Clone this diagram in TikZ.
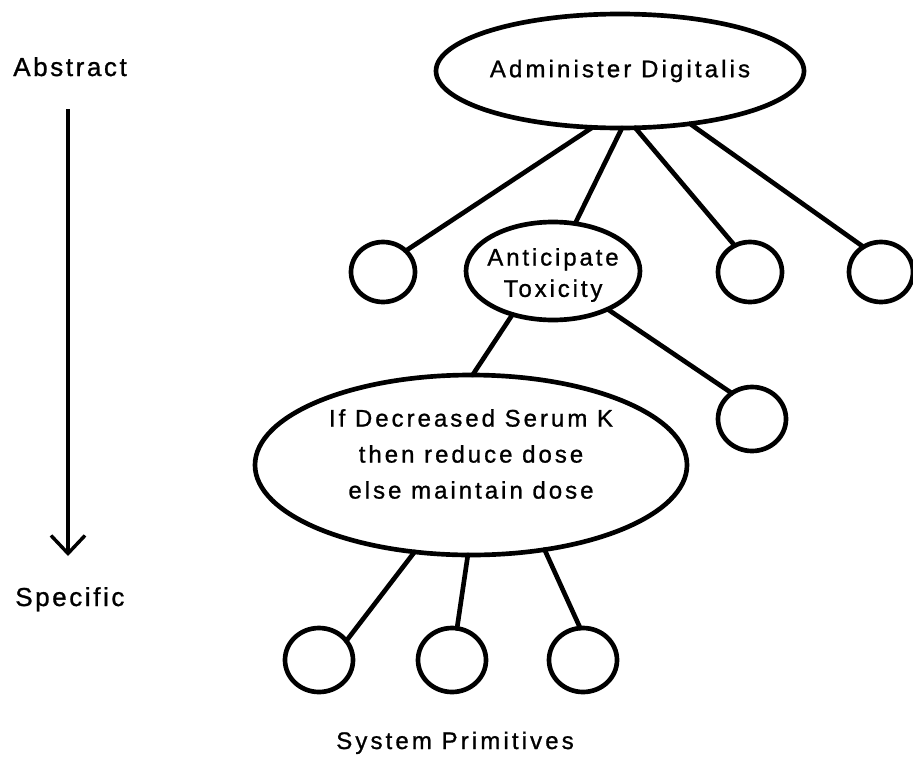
\documentclass[tikz,border=0pt]{standalone}
\usepackage{fontspec}
\setmainfont{Liberation Sans}
\usetikzlibrary{arrows.meta,shapes.geometric}
\tikzset{
  shape base/.style={draw, ellipse, line width=3.5pt, inner sep=0pt, outer sep=0pt},
  bigell/.style={shape base},
  leaf/.style={shape base, minimum width=48pt, minimum height=45pt},
  leafbig/.style={shape base, minimum width=51pt, minimum height=48pt},
  conn/.style={line width=3.5pt, line cap=round},
  sidelbl/.style={font=\fontsize{19.5}{22}\selectfont\addfontfeature{LetterSpace=10,FakeBold=1}},
  toplbl/.style={font=\fontsize{18}{19}\selectfont\addfontfeature{LetterSpace=13,FakeBold=1}},
  antlbl/.style={font=\fontsize{18}{23.5}\selectfont\addfontfeature{LetterSpace=12,FakeBold=1}, align=center},
  botlbl/.style={font=\fontsize{18}{27}\selectfont\addfontfeature{LetterSpace=12.5,FakeBold=1}, align=center},
  syslbl/.style={font=\fontsize{18}{19}\selectfont\addfontfeature{LetterSpace=13,FakeBold=1}},
}
\begin{document}
\begin{tikzpicture}[x=0.75pt,y=-0.75pt]
\useasboundingbox (0,0) rectangle (913,757);
\fill[white] (0,0) rectangle (913,757);
% side scale
\node[sidelbl, anchor=base west, inner sep=0pt] (abs) at (13,76) {Abstract};
\node[sidelbl, anchor=base west, inner sep=0pt] (spec) at (15,606) {Specific};
\coordinate (atop) at (68,109);
\coordinate (abot) at (68,556);
\draw[line width=2.6pt, -{Straight Barb[length=13.5pt,width=25.5pt,line width=2.6pt]}] (atop) -- (abot);
% tree nodes
\node[bigell, toplbl, minimum width=244.5pt, minimum height=85.5pt] (top) at (620,71) {Administer Digitalis};
\node[leaf] (l1) at (383,272) {};
\node[bigell, minimum width=130.5pt, minimum height=73.5pt] (ant) at (553,271) {};
\node[antlbl, inner sep=0pt] (anttxt) at (553,275) {Anticipate\\Toxicity};
\node[leaf] (r1) at (750,272) {};
\node[leaf] (fr) at (881,272) {};
\node[leafbig] (r2) at (752,419) {};
\node[bigell, minimum width=324pt, minimum height=135pt] (bot) at (471,465) {};
\node[botlbl, inner sep=0pt] (bottxt) at (471,454) {If Decreased Serum K\\then reduce dose\\else maintain dose};
\node[leafbig] (c1) at (319,660) {};
\node[leafbig] (c2) at (452,660) {};
\node[leafbig] (c3) at (583,660) {};
\node[syslbl, anchor=base, inner sep=0pt] (sys) at (455,749) {System Primitives};
% connectors
\draw[conn] (top.244) -- (l1.43);
\draw[conn] (top.272) -- (ant.65);
\draw[conn] (top.285) -- (r1.120);
\draw[conn] (top.323) -- (fr.125);
\draw[conn] (ant.227) -- (bot.89);
\draw[conn] (ant.325) -- (r2.128);
\draw[conn] (bot.237) -- (c1.35);
\draw[conn] (bot.268) -- (c2.81);
\draw[conn] (bot.311) -- (c3.95);
\end{tikzpicture}
\end{document}
